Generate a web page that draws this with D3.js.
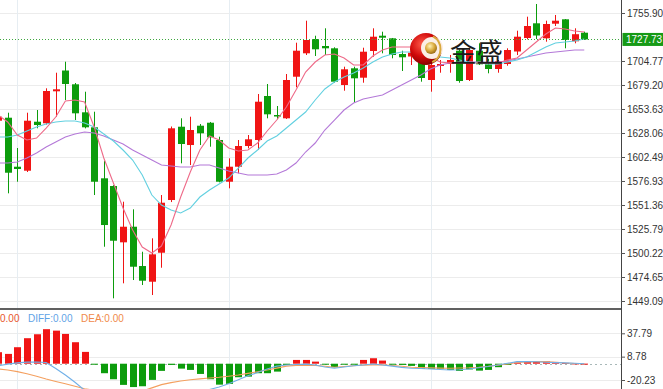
<!DOCTYPE html>
<html><head><meta charset="utf-8">
<script src="https://cdn.jsdelivr.net/npm/d3@7/dist/d3.min.js"></script>
<style>html,body{margin:0;padding:0;background:#fff;overflow:hidden}svg{display:block}</style>
</head><body><svg id="c" width="663" height="389"></svg>
<script>
// candle index runs from -1 (partly hidden at left edge) to 60
const firstIndex = -1;
const openP  = [1641.15,1644.35,1592.15,1587.88,1640.09,1638.39,1672.48,1694.64,1679.94,1650.10,1634.12,1579.79,1571.58,1511.60,1528.22,1486.35,1469.63,1500.52,1556.67,1634.76,1615.26,1635.83,1639.02,1620.59,1576.16,1592.15,1614.20,1620.59,1667.47,1647.23,1643.71,1688.03,1712.96,1728.20,1720.74,1718.29,1679.19,1696.98,1686.97,1715.41,1731.71,1728.94,1712.22,1709.55,1703.69,1684.52,1699.43,1701.56,1715.73,1684.52,1715.73,1701.24,1696.24,1701.56,1714.88,1729.26,1744.93,1728.94,1744.50,1749.19,1725.75,1734.91];
const highP  = [1647.23,1649.68,1612.07,1649.68,1652.55,1675.67,1692.29,1704.01,1681.32,1672.05,1650.74,1598.54,1572.50,1554.86,1546.76,1501.58,1515.86,1561.99,1635.00,1643.71,1645.42,1637.64,1639.80,1624.11,1601.09,1620.59,1625.92,1669.60,1680.26,1656.82,1690.91,1724.26,1747.70,1731.71,1739.60,1719.36,1698.69,1698.69,1718.93,1739.60,1735.98,1729.30,1715.73,1717.54,1706.00,1703.00,1705.83,1711.15,1717.00,1718.29,1723.62,1707.00,1705.83,1718.29,1737.04,1751.96,1765.49,1747.70,1753.77,1749.50,1739.60,1735.98];
const lowP   = [1639.77,1563.81,1576.16,1586.50,1633.06,1637.00,1645.42,1663.21,1641.90,1633.00,1561.99,1506.91,1451.94,1467.92,1471.43,1466.11,1455.45,1484.54,1554.50,1595.77,1593.96,1615.26,1613.45,1575.50,1569.13,1585.11,1611.75,1609.94,1643.71,1642.65,1643.00,1676.74,1711.15,1710.09,1711.15,1681.64,1673.12,1660.33,1681.64,1709.34,1712.96,1707.64,1694.11,1700.50,1682.71,1672.05,1692.29,1692.29,1681.64,1683.45,1700.50,1691.66,1692.29,1699.75,1711.15,1727.88,1728.20,1725.32,1742.05,1718.29,1723.62,1727.13];
const closeP = [1645.42,1585.75,1589.70,1641.15,1636.57,1672.80,1674.61,1680.26,1649.04,1634.12,1576.16,1530.03,1513.30,1528.22,1485.60,1470.69,1498.81,1553.79,1633.06,1616.33,1631.25,1627.73,1623.47,1576.16,1592.15,1614.20,1621.34,1661.40,1647.97,1646.16,1684.52,1715.73,1727.13,1717.23,1718.29,1682.71,1695.92,1686.33,1714.67,1730.65,1729.58,1711.15,1708.70,1713.60,1686.65,1700.50,1701.56,1705.83,1683.45,1716.48,1701.24,1696.24,1704.76,1716.48,1730.65,1742.05,1731.93,1744.18,1747.70,1727.13,1733.31,1727.73];

const ma5  = [1647.23,1639.77,1625.92,1620.59,1622.72,1633.38,1645.10,1662.14,1663.21,1661.08,1634.44,1601.41,1574.78,1548.14,1524.70,1506.59,1500.20,1507.66,1530.03,1559.86,1586.50,1609.94,1624.85,1620.59,1612.07,1608.87,1609.94,1617.40,1630.18,1641.90,1655.75,1673.86,1693.04,1703.69,1711.15,1712.22,1707.96,1700.50,1700.50,1710.09,1716.48,1719.68,1719.68,1719.68,1716.48,1709.02,1703.69,1702.63,1702.63,1702.63,1702.63,1702.63,1702.63,1705.83,1707.96,1716.48,1725.00,1733.53,1739.92,1738.85,1736.72,1735.66];
const ma10 = [1623.79,1623.79,1625.92,1630.18,1634.44,1637.64,1639.77,1640.83,1640.83,1638.70,1634.44,1626.98,1619.53,1609.94,1599.28,1583.30,1561.99,1551.34,1546.01,1542.82,1548.14,1559.86,1567.32,1573.71,1580.11,1590.76,1601.41,1609.94,1619.53,1624.85,1633.38,1641.90,1650.42,1663.21,1674.93,1682.39,1687.71,1691.97,1697.30,1703.69,1709.02,1712.22,1714.35,1714.35,1712.22,1710.09,1709.02,1707.96,1705.83,1703.69,1702.63,1701.56,1701.56,1703.69,1705.83,1709.02,1714.35,1719.68,1723.94,1725.00,1726.07,1728.20];
const ma20 = [1596.09,1596.09,1597.15,1601.41,1606.74,1613.13,1618.46,1623.79,1626.98,1629.12,1628.05,1624.85,1620.59,1616.33,1609.94,1604.61,1599.28,1593.96,1592.89,1591.83,1591.83,1593.96,1593.96,1590.76,1587.56,1585.43,1583.30,1583.30,1583.30,1584.37,1588.63,1596.09,1607.81,1617.40,1631.25,1641.90,1652.55,1660.01,1664.27,1666.40,1668.54,1673.86,1679.19,1684.52,1689.84,1696.24,1700.50,1702.63,1703.69,1703.69,1703.69,1703.69,1703.69,1704.76,1706.89,1709.02,1711.15,1713.28,1714.35,1715.41,1716.48,1716.48];

const macdHist = [14.3,12.2,20.5,31.7,36.6,42.9,41.1,37.0,26.7,14.7,-0.9,-11.8,-19.3,-26.3,-29,-28,-20.1,-8.9,-1.5,-6.1,-7.7,-12.7,-19.3,-26,-25,-16.8,-16.0,-11.8,-11.8,-9.8,-1.5,4.7,4.7,2.6,-0.6,-4.3,-0.9,-0.9,4.7,6.8,3.9,-0.6,-1.5,-2.7,-6.5,-6.5,-6.5,-7.7,-8.9,-7.1,-8.6,-7.7,-4.3,-1.5,1.6,2.2,2.2,2.9,2.2,1.0,0.4,0.1];
const diffVals = [-2.7,-0.5,1,2,2.1,1.5,-6,-14,-23,-33,-42,-50,-56,-60,-62,-60,-55,-45,-38,-35,-34,-33,-32,-29,-25,-20,-15,-11,-6.5,-3,-1.5,-0.9,-0.5,-1.5,-4,-5.6,-4,-2.5,-1.5,-0.3,-1.5,-3,-4.5,-5.6,-6,-6.5,-7.2,-7.8,-7.5,-6.5,-5,-3.5,-1.5,0.5,2.6,2.6,2.4,1.9,1.4,1,0.5,0];
const deaVals  = [-6.5,-7.8,-9.8,-12.5,-15.5,-19,-22,-25,-28,-31,-33,-35,-36,-37,-36.5,-34,-30,-26,-23.5,-21.5,-20,-18.8,-17.8,-16.8,-15.5,-14,-12,-10,-7.8,-5.5,-3,-2,-1.8,-2.2,-3.2,-4.3,-3.5,-2.5,-1.8,-1.5,-1.5,-2.2,-3.2,-4.3,-4.8,-5.2,-5.5,-5.6,-5.4,-5,-4.3,-3.2,-1.8,-0.4,1.5,2.3,2.6,2.6,1.8,0.8,0.3,0];

const priceTicks = [1755.90,1704.77,1679.20,1653.63,1628.06,1602.49,1576.93,1551.36,1525.79,1500.22,1474.65,1449.09];
const macdTicks = [37.79,8.78,-20.23];
const monthLines = [1,23,44];
const lastPrice = 1727.73;

const RED='#f01414', GREEN='#0c9c0c';
const svg = d3.select('#c');
const xs = d3.scaleLinear().domain([-1,63]).range([-1.9,613.1]);
const y = d3.scaleLinear().domain([1449.09,1755.90]).range([301,13]);
const ym = d3.scaleLinear().domain([-20.23,37.79]).range([380,333.3]);
const AX = 621;

const defs = svg.append('defs');
defs.append('clipPath').attr('id','cm').append('rect').attr('x',0).attr('y',0).attr('width',AX).attr('height',308);
defs.append('clipPath').attr('id','cb').append('rect').attr('x',0).attr('y',310).attr('width',AX).attr('height',79);
const rg = defs.append('radialGradient').attr('id','lr').attr('cx','38%').attr('cy','35%').attr('r','70%');
rg.append('stop').attr('offset','0%').attr('stop-color','#ff5a4a');
rg.append('stop').attr('offset','55%').attr('stop-color','#d10a0a');
rg.append('stop').attr('offset','100%').attr('stop-color','#7d0000');
const gg = defs.append('radialGradient').attr('id','lg').attr('cx','40%').attr('cy','35%').attr('r','70%');
gg.append('stop').attr('offset','0%').attr('stop-color','#fff2b8');
gg.append('stop').attr('offset','55%').attr('stop-color','#d9a93c');
gg.append('stop').attr('offset','100%').attr('stop-color','#8f6310');

// grid
const grid = svg.append('g');
grid.selectAll('.hg').data(priceTicks).join('line')
  .attr('x1',0).attr('x2',AX).attr('y1',d=>Math.round(y(d))+0.5).attr('y2',d=>Math.round(y(d))+0.5)
  .attr('stroke','#ececec').attr('stroke-width',1);
grid.selectAll('.mg').data(macdTicks).join('line')
  .attr('x1',0).attr('x2',AX).attr('y1',d=>Math.round(ym(d))+0.5).attr('y2',d=>Math.round(ym(d))+0.5)
  .attr('stroke','#ececec').attr('stroke-width',1);
grid.selectAll('.vg').data(monthLines).join('line')
  .attr('x1',d=>Math.round(xs(d))+0.5).attr('x2',d=>Math.round(xs(d))+0.5).attr('y1',0).attr('y2',389)
  .attr('stroke','#e6edf2').attr('stroke-width',1);

// candles
const candles = openP.map((o,k)=>({i:k+firstIndex,o,h:highP[k],l:lowP[k],c:closeP[k]}));
const gm = svg.append('g').attr('clip-path','url(#cm)');
const BW = 7;
const cg = gm.selectAll('.cd').data(candles).join('g');
cg.append('line')
  .attr('x1',d=>Math.round(xs(d.i))+0.5).attr('x2',d=>Math.round(xs(d.i))+0.5)
  .attr('y1',d=>y(d.h)).attr('y2',d=>y(d.l))
  .attr('stroke',d=>d.c>=d.o?RED:GREEN).attr('stroke-width',1);
cg.append('rect')
  .attr('x',d=>Math.round(xs(d.i))-3).attr('width',BW)
  .attr('y',d=>y(Math.max(d.o,d.c)))
  .attr('height',d=>Math.max(1.5,Math.abs(y(d.o)-y(d.c))))
  .attr('fill',d=>d.c>=d.o?RED:GREEN);

// moving averages
const mkLine = (arr, sc) => d3.line().x((v,k)=>xs(k+firstIndex)).y(v=>sc(v))(arr);
gm.append('path').attr('d',mkLine(ma20,y)).attr('fill','none').attr('stroke','#b479d8').attr('stroke-width',1.1);
gm.append('path').attr('d',mkLine(ma10,y)).attr('fill','none').attr('stroke','#62d0e0').attr('stroke-width',1.1);
gm.append('path').attr('d',mkLine(ma5,y)).attr('fill','none').attr('stroke','#ee6a88').attr('stroke-width',1.1);

// last price dotted line
svg.append('line').attr('x1',0).attr('x2',AX).attr('y1',Math.round(y(lastPrice))+0.5).attr('y2',Math.round(y(lastPrice))+0.5)
  .attr('stroke','#3fa83f').attr('stroke-width',1).attr('stroke-dasharray','1,2');

// watermark logo
const lg = svg.append('g').attr('transform','translate(426,49)');
lg.append('circle').attr('r',16).attr('fill','url(#lr)');
lg.append('circle').attr('cx',6).attr('cy',-1).attr('r',11).attr('fill','#fbeee6');
lg.append('path').attr('d',d3.arc().innerRadius(13.5).outerRadius(15.5).startAngle(0.5).endAngle(2.7)()).attr('fill','#d9a93c');
lg.append('circle').attr('cx',5).attr('cy',-1).attr('r',6).attr('fill','url(#lg)');
svg.append('text').attr('x',450).attr('y',61.5).text('金盛')
  .attr('font-family','"Noto Sans CJK SC","Noto Sans CJK TC",sans-serif').attr('font-size',26.5).attr('fill','#1c1c1c');

// MACD panel
const gb = svg.append('g').attr('clip-path','url(#cb)');
gb.append('line').attr('x1',0).attr('x2',AX).attr('y1',Math.round(ym(0))+0.5).attr('y2',Math.round(ym(0))+0.5)
  .attr('stroke','#a8b8b8').attr('stroke-width',1).attr('stroke-dasharray','2,3');
gb.selectAll('.hb').data(macdHist).join('rect')
  .attr('x',(v,k)=>Math.round(xs(k+firstIndex))-3).attr('width',BW)
  .attr('y',v=>Math.min(ym(0),ym(v))).attr('height',v=>Math.max(1,Math.abs(ym(v)-ym(0))))
  .attr('fill',v=>v>=0?RED:GREEN);
gb.append('path').attr('d',mkLine(deaVals,ym)).attr('fill','none').attr('stroke','#f4a060').attr('stroke-width',1.1);
gb.append('path').attr('d',mkLine(diffVals,ym)).attr('fill','none').attr('stroke','#70b0e8').attr('stroke-width',1.1);

const lf = 'font-family';
const LF = '"Liberation Sans",Arial,sans-serif';
svg.append('text').attr('x',0).attr('y',322).attr(lf,LF).attr('font-size',10).attr('fill','#e8562c').text('0.00');
svg.append('text').attr('x',28).attr('y',322).attr(lf,LF).attr('font-size',10).attr('fill','#5fa3e6').text('DIFF:0.00');
svg.append('text').attr('x',81).attr('y',322).attr(lf,LF).attr('font-size',10).attr('fill','#f0894a').text('DEA:0.00');

// separator
svg.append('line').attr('x1',0).attr('x2',AX).attr('y1',309).attr('y2',309).attr('stroke','#606060').attr('stroke-width',2);

// right axes
svg.append('line').attr('x1',AX+0.5).attr('x2',AX+0.5).attr('y1',0).attr('y2',389).attr('stroke','#444').attr('stroke-width',1);
const pa = d3.axisRight(y).tickValues(priceTicks).tickSize(4).tickPadding(2).tickFormat(d=>d.toFixed(2));
const pg = svg.append('g').attr('transform',`translate(${AX},0)`).call(pa);
const ma = d3.axisRight(ym).tickValues(macdTicks).tickSize(4).tickPadding(2).tickFormat(d=>d.toFixed(2));
const mg = svg.append('g').attr('transform',`translate(${AX},0)`).call(ma);
[pg,mg].forEach(g=>{
  g.select('.domain').remove();
  g.selectAll('.tick line').attr('stroke','#555');
  g.selectAll('.tick text').attr('fill','#333').attr(lf,LF).attr('font-size',10);
});

// current price tag
svg.append('rect').attr('x',622.5).attr('y',y(lastPrice)-6.5).attr('width',41).attr('height',13).attr('fill','#169a16');
svg.append('text').attr('x',626).attr('y',y(lastPrice)+3.6).attr(lf,LF).attr('font-size',10).attr('fill','#fff').text(lastPrice.toFixed(2));
</script></body></html>
